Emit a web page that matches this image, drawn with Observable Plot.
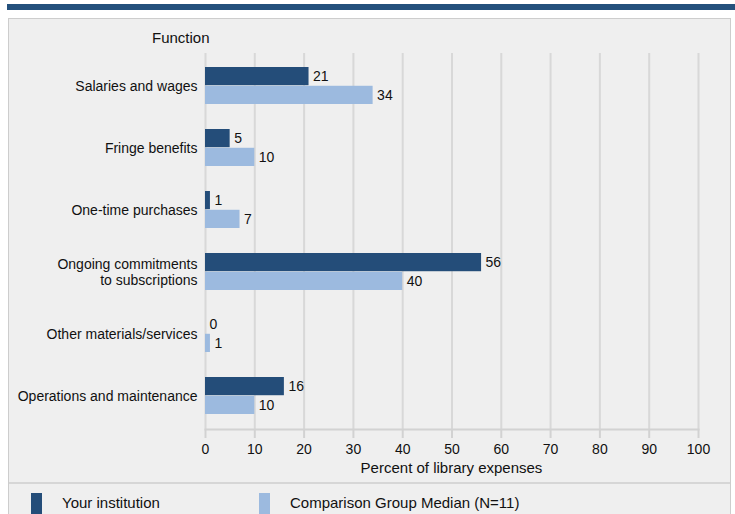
<!DOCTYPE html>
<html><head><meta charset="utf-8">
<script src="https://cdn.jsdelivr.net/npm/d3@7"></script>
<script src="https://cdn.jsdelivr.net/npm/@observablehq/plot@0.6"></script>
<style>
body{margin:0;background:#fff;font-family:"Liberation Sans",Arial,sans-serif;width:735px;height:514px;overflow:hidden;position:relative}
.abs{position:absolute}
</style></head><body>
<div class="abs" style="left:7px;top:4px;width:728px;height:6px;background:#24507c"></div>
<div class="abs" style="left:8px;top:18px;width:721px;height:500px;background:#efefef;border:1px solid #cdcdcd"></div>
<div class="abs" style="left:9px;top:482px;width:721px;height:2px;background:#d6d6d6"></div>
<div class="abs" style="left:152px;top:29px;font-size:15px;color:#111">Function</div>
<div id="chart" class="abs" style="left:0;top:0"></div>
<div class="abs" style="left:205px;width:493px;top:459px;text-align:center;font-size:15px;color:#111">Percent of library expenses</div>
<div class="abs" style="left:31px;top:493px;width:11px;height:24px;background:#244d79"></div>
<div class="abs" style="left:62px;top:494px;font-size:15px;color:#111">Your institution</div>
<div class="abs" style="left:259px;top:493px;width:11px;height:24px;background:#9cbadf"></div>
<div class="abs" style="left:290px;top:494px;font-size:15px;color:#111">Comparison Group Median (N=11)</div>
<script>
const categories = ["Salaries and wages","Fringe benefits","One-time purchases","Ongoing commitments\nto subscriptions","Other materials/services","Operations and maintenance"];
const yourInstitution = [21,5,1,56,0,16];
const comparisonMedian = [34,10,7,40,1,10];
const xTicks = [0,10,20,30,40,50,60,70,80,90,100];
const colors = ["#244d79","#9cbadf"];

const yours = categories.map((c,i)=>({category:c, value:yourInstitution[i]}));
const comp = categories.map((c,i)=>({category:c, value:comparisonMedian[i]}));

const half = 62.6*0.6/2;
const chart = Plot.plot({
  width:735, height:483,
  marginLeft:205, marginRight:37, marginTop:53, marginBottom:54,
  style:{background:"transparent", fontFamily:"Liberation Sans, Arial, sans-serif", color:"#111", overflow:"visible"},
  x:{domain:[0,100]},
  y:{domain:categories, paddingInner:0.4, paddingOuter:0.2},
  marks:[
    Plot.ruleX(xTicks,{stroke:"#d8d8d8", strokeWidth:2}),
    Plot.frame({anchor:"bottom", stroke:"#d2d2d2", strokeWidth:2}),
    Plot.axisY({tickSize:0, tickPadding:8, fontSize:14, label:null, lineHeight:1.1}),
    Plot.axisX({ticks:xTicks, tickSize:9, tickPadding:6, fontSize:14, stroke:"#d2d2d2", strokeWidth:2, label:null}),
    Plot.barX(yours,{x:"value", y:"category", fill:colors[0], insetBottom:half}),
    Plot.barX(comp,{x:"value", y:"category", fill:colors[1], insetTop:half}),
    Plot.text(yours,{x:"value", y:"category", text:d=>String(d.value), dx:4, dy:-half/2, textAnchor:"start", fontSize:14, fill:"#111"}),
    Plot.text(comp,{x:"value", y:"category", text:d=>String(d.value), dx:4, dy:half/2, textAnchor:"start", fontSize:14, fill:"#111"})
  ]
});
document.getElementById("chart").appendChild(chart);
</script>
</body></html>
